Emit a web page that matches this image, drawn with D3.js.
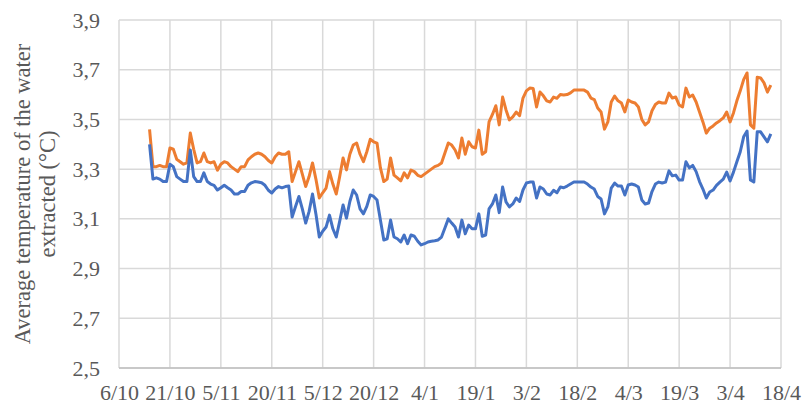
<!DOCTYPE html>
<html>
<head>
<meta charset="utf-8">
<script src="https://cdn.jsdelivr.net/npm/d3@7"></script>
<style>
  body { margin: 0; background: #fff; }
  svg text { font-family: "Liberation Serif", "Times New Roman", serif; fill: #595959; }
</style>
</head>
<body>
<div id="chart"></div>
<script>
// daily dates of the measurements
const dates = [
  '2019-10-15','2019-10-16','2019-10-17','2019-10-18','2019-10-19','2019-10-20','2019-10-21','2019-10-22','2019-10-23','2019-10-24',
  '2019-10-25','2019-10-26','2019-10-27','2019-10-28','2019-10-29','2019-10-30','2019-10-31',
  '2019-11-01','2019-11-02','2019-11-03','2019-11-04','2019-11-05','2019-11-06','2019-11-07','2019-11-08','2019-11-09','2019-11-10',
  '2019-11-11','2019-11-12','2019-11-13','2019-11-14','2019-11-15','2019-11-16','2019-11-17','2019-11-18','2019-11-19','2019-11-20',
  '2019-11-21','2019-11-22','2019-11-23','2019-11-24','2019-11-25','2019-11-26','2019-11-27','2019-11-28','2019-11-29','2019-11-30',
  '2019-12-01','2019-12-02','2019-12-03','2019-12-04','2019-12-05','2019-12-06','2019-12-07','2019-12-08','2019-12-09','2019-12-10',
  '2019-12-11','2019-12-12','2019-12-13','2019-12-14','2019-12-15','2019-12-16','2019-12-17','2019-12-18','2019-12-19','2019-12-20',
  '2019-12-21','2019-12-22','2019-12-23','2019-12-24','2019-12-25','2019-12-26','2019-12-27','2019-12-28','2019-12-29','2019-12-30','2019-12-31',
  '2020-01-01','2020-01-02','2020-01-03','2020-01-04','2020-01-05','2020-01-06','2020-01-07','2020-01-08','2020-01-09','2020-01-10',
  '2020-01-11','2020-01-12','2020-01-13','2020-01-14','2020-01-15','2020-01-16','2020-01-17','2020-01-18','2020-01-19','2020-01-20',
  '2020-01-21','2020-01-22','2020-01-23','2020-01-24','2020-01-25','2020-01-26','2020-01-27','2020-01-28','2020-01-29','2020-01-30','2020-01-31',
  '2020-02-01','2020-02-02','2020-02-03','2020-02-04','2020-02-05','2020-02-06','2020-02-07','2020-02-08','2020-02-09','2020-02-10',
  '2020-02-11','2020-02-12','2020-02-13','2020-02-14','2020-02-15','2020-02-16','2020-02-17','2020-02-18','2020-02-19','2020-02-20',
  '2020-02-21','2020-02-22','2020-02-23','2020-02-24','2020-02-25','2020-02-26','2020-02-27','2020-02-28','2020-02-29',
  '2020-03-01','2020-03-02','2020-03-03','2020-03-04','2020-03-05','2020-03-06','2020-03-07','2020-03-08','2020-03-09','2020-03-10',
  '2020-03-11','2020-03-12','2020-03-13','2020-03-14','2020-03-15','2020-03-16','2020-03-17','2020-03-18','2020-03-19','2020-03-20',
  '2020-03-21','2020-03-22','2020-03-23','2020-03-24','2020-03-25','2020-03-26','2020-03-27','2020-03-28','2020-03-29','2020-03-30','2020-03-31',
  '2020-04-01','2020-04-02','2020-04-03','2020-04-04','2020-04-05','2020-04-06','2020-04-07','2020-04-08','2020-04-09','2020-04-10',
  '2020-04-11','2020-04-12','2020-04-13','2020-04-14','2020-04-15'
];

const orangeValues = [
  3.46,3.31,3.31,3.315,3.31,3.31,3.385,3.38,3.34,3.33,
  3.32,3.325,3.445,3.38,3.325,3.33,3.365,
  3.33,3.325,3.33,3.296,3.32,3.33,3.325,3.31,3.30,3.29,
  3.31,3.31,3.337,3.35,3.36,3.365,3.36,3.35,3.335,3.325,
  3.35,3.365,3.36,3.36,3.37,3.25,3.29,3.33,3.28,3.23,
  3.27,3.325,3.26,3.184,3.205,3.224,3.29,3.24,3.20,3.27,
  3.345,3.297,3.36,3.397,3.405,3.36,3.33,3.37,3.42,3.41,
  3.405,3.305,3.25,3.26,3.345,3.276,3.265,3.253,3.285,3.265,3.296,
  3.29,3.275,3.27,3.28,3.29,3.30,3.31,3.315,3.325,3.365,
  3.405,3.397,3.377,3.345,3.425,3.36,3.41,3.39,3.385,3.457,
  3.36,3.37,3.49,3.52,3.555,3.478,3.59,3.538,3.498,3.51,3.53,
  3.515,3.586,3.615,3.626,3.624,3.55,3.61,3.595,3.575,3.57,
  3.59,3.585,3.60,3.598,3.60,3.607,3.618,3.618,3.618,3.618,
  3.61,3.586,3.58,3.546,3.53,3.461,3.49,3.57,3.594,
  3.575,3.566,3.53,3.578,3.57,3.566,3.55,3.50,3.478,3.49,
  3.535,3.56,3.57,3.566,3.566,3.606,3.586,3.59,3.558,3.55,
  3.626,3.59,3.598,3.57,3.53,3.49,3.445,3.465,3.474,3.486,3.495,
  3.506,3.53,3.49,3.526,3.575,3.615,3.66,3.687,3.478,3.465,
  3.67,3.667,3.647,3.61,3.638
];

const blueValues = [
  3.40,3.26,3.265,3.26,3.25,3.25,3.32,3.31,3.27,3.26,
  3.25,3.25,3.377,3.27,3.25,3.25,3.285,
  3.25,3.24,3.235,3.216,3.225,3.235,3.225,3.216,3.20,3.20,
  3.21,3.21,3.235,3.245,3.25,3.248,3.245,3.235,3.215,3.204,
  3.22,3.23,3.225,3.23,3.232,3.107,3.15,3.19,3.14,3.083,
  3.13,3.20,3.12,3.027,3.05,3.067,3.115,3.06,3.027,3.09,
  3.156,3.103,3.17,3.216,3.196,3.14,3.12,3.15,3.196,3.19,
  3.176,3.095,3.015,3.02,3.095,3.027,3.02,3.007,3.035,3.00,3.035,
  3.03,3.01,2.995,3.00,3.007,3.01,3.012,3.015,3.027,3.063,
  3.10,3.083,3.067,3.027,3.095,3.04,3.075,3.06,3.06,3.12,
  3.03,3.035,3.14,3.16,3.196,3.125,3.228,3.168,3.148,3.16,3.184,
  3.17,3.216,3.244,3.248,3.248,3.184,3.228,3.22,3.20,3.196,
  3.215,3.205,3.228,3.225,3.232,3.24,3.248,3.248,3.248,3.248,
  3.24,3.228,3.22,3.19,3.18,3.12,3.148,3.224,3.244,
  3.232,3.232,3.196,3.236,3.24,3.236,3.228,3.176,3.16,3.164,
  3.21,3.24,3.248,3.244,3.248,3.293,3.273,3.276,3.256,3.256,
  3.33,3.305,3.315,3.29,3.25,3.22,3.184,3.208,3.216,3.235,3.248,
  3.26,3.288,3.252,3.288,3.33,3.37,3.43,3.453,3.256,3.248,
  3.45,3.45,3.43,3.41,3.442
];

const tickDates = [
  '2019-10-06','2019-10-21','2019-11-05','2019-11-20','2019-12-05','2019-12-20','2020-01-04',
  '2020-01-19','2020-02-03','2020-02-18','2020-03-04','2020-03-19','2020-04-03','2020-04-18'
];
const yTicks = [2.5, 2.7, 2.9, 3.1, 3.3, 3.5, 3.7, 3.9];
const yTitle = ['Average temperature of the water', 'extracted (°C)'];

const W = 802, H = 407;
const MARGIN = { TOP: 20, LEFT: 119, RIGHT: 21, BOTTOM: 39 };
const WIDTH = W - MARGIN.LEFT - MARGIN.RIGHT;
const HEIGHT = H - MARGIN.TOP - MARGIN.BOTTOM;
const parse = d3.timeParse('%Y-%m-%d');

var svg = d3.select('#chart').append('svg')
  .attr('width', W)
  .attr('height', H);
var g = svg.append('g')
  .attr('transform', 'translate(' + MARGIN.LEFT + ',' + MARGIN.TOP + ')');

var ticks = tickDates.map(parse);
var x = d3.scaleTime().domain([ticks[0], ticks[ticks.length - 1]]).range([0, WIDTH]);
var y = d3.scaleLinear().domain([2.5, 3.9]).range([HEIGHT, 0]);

// gridlines
g.append('g').selectAll('line').data(yTicks).enter().append('line')
  .attr('x1', 0).attr('x2', WIDTH)
  .attr('y1', d => y(d)).attr('y2', d => y(d))
  .style('stroke', '#d9d9d9').style('stroke-width', 1.5);
g.append('g').selectAll('line').data(ticks).enter().append('line')
  .attr('x1', d => x(d)).attr('x2', d => x(d))
  .attr('y1', 0).attr('y2', HEIGHT)
  .style('stroke', '#d9d9d9').style('stroke-width', 1.5);

var fmtY = d => d3.format('.1f')(d).replace('.', ',');
var xAxis = d3.axisBottom(x).tickValues(ticks).tickFormat(d3.timeFormat('%-d/%-m')).tickSize(0).tickPadding(16);
var yAxis = d3.axisLeft(y).tickValues(yTicks).tickFormat(fmtY).tickSize(0).tickPadding(19);

g.append('g')
  .attr('class', 'x axis')
  .attr('transform', 'translate(0,' + HEIGHT + ')')
  .call(xAxis);
g.append('g')
  .attr('class', 'y axis')
  .call(yAxis);

g.selectAll('.axis path').remove();
g.selectAll('.axis text').style('font-size', '22px').attr('fill', '#595959');
g.select('.x.axis').append('line')
  .attr('x1', 0).attr('x2', WIDTH)
  .style('stroke', '#bfbfbf').style('stroke-width', 1.5);

// lines
var dateObjs = dates.map(parse);
function drawLine (values, color) {
  var line = d3.line()
    .x((d, i) => x(dateObjs[i]))
    .y(d => y(d));
  g.append('path')
    .datum(values)
    .attr('d', line)
    .attr('fill', 'none')
    .attr('stroke', color)
    .attr('stroke-width', 3)
    .attr('stroke-linejoin', 'round');
}
drawLine(orangeValues, '#ed7d31');
drawLine(blueValues, '#4472c4');

// y title
var title = svg.append('text')
  .attr('transform', 'translate(22,' + (MARGIN.TOP + HEIGHT / 2) + ') rotate(-90)')
  .attr('text-anchor', 'middle')
  .style('font-size', '22.5px');
title.selectAll('tspan').data(yTitle).enter().append('tspan')
  .attr('x', 0)
  .attr('dy', (d, i) => i === 0 ? '0.35em' : '1.12em')
  .text(d => d);
</script>
</body>
</html>
